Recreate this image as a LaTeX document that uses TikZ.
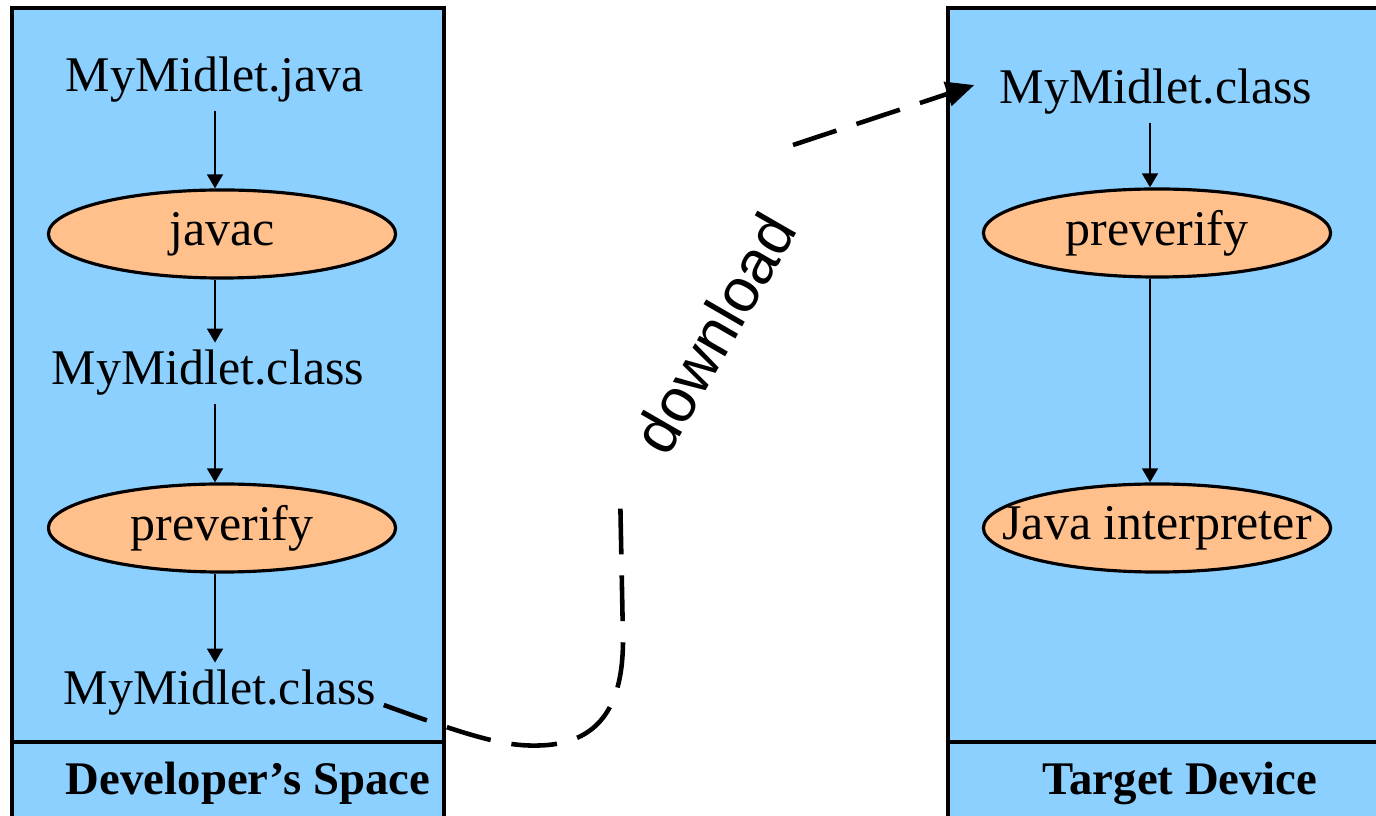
\documentclass[tikz,border=0pt]{standalone}
\usepackage{fontspec}
\setmainfont{Liberation Serif}
\newfontfamily\dlfont{Liberation Sans}
\usetikzlibrary{shapes.geometric,arrows.meta}
\definecolor{spaceblue}{RGB}{140,208,255}
\definecolor{toolorange}{RGB}{255,192,140}
\tikzset{
  space/.style={draw=black,line width=0.9pt,fill=spaceblue},
  file/.style={font=\fontsize{14.2}{17}\selectfont,inner sep=2pt,anchor=base},
  tool/.style={ellipse,draw=black,line width=0.9pt,fill=toolorange,minimum width=3.47cm,minimum height=0.88cm,inner sep=0pt,font=\fontsize{14.2}{17}\selectfont},
  flow/.style={line width=0.7pt,-{Triangle[length=4pt,width=4.5pt]}},
  dl/.style={line width=1.3pt,dash pattern=on 13pt off 6pt},
  title/.style={font=\fontsize{13.3}{16}\selectfont\bfseries,anchor=base}
}

\begin{document}
\begin{tikzpicture}[x=0.01cm,y=-0.01cm]
  \useasboundingbox (0,0) rectangle (1376,816);
  \clip (0,0) rectangle (1376,816);
  %%%%% DEVELOPER %%%%%
  \draw[space] (12,8) rectangle (444,840);
  \draw[line width=0.9pt] (12,742) -- (444,742);
  \node[title] (devlabel) at (248,794) {Developer's Space};

  \node[file] (ljava) at (215,92) {MyMidlet.java};
  \node[tool] (javac) at (222,234) {javac};
  \node[file] (lcls1) at (208,385) {MyMidlet.class};
  \node[tool] (lpre) at (222,528) {preverify};
  \node[file] (lcls2) at (220,705) {MyMidlet.class};

  \draw[flow] (ljava) -- (ljava |- javac.north);
  \draw[flow] (javac.south -| ljava) -- (lcls1.north -| ljava);
  \draw[flow] (lcls1.south -| ljava) -- (lpre.north -| ljava);
  \draw[flow] (lpre.south -| ljava) -- (lcls2.north -| ljava);

  %%%%% TARGET %%%%%
  \draw[space] (948,8) rectangle (1400,840);
  \draw[line width=0.9pt] (948,742) -- (1400,742);
  \node[title] (tgtlabel) at (1180,794) {Target Device};

  \node[file] (rcls) at (1156,104) {MyMidlet.class};
  \node[tool] (rpre) at (1157,233) {preverify};
  \node[tool,inner xsep=-0.36cm] (rjvm) at (1157,528) {Java interpreter};
  \coordinate (rcol) at (1150,0);

  \draw[flow] (rcls.south -| rcol) -- (rpre.north -| rcol);
  \draw[flow] (rpre.south -| rcol) -- (rjvm.north -| rcol);

  %%%%% DOWNLOAD %%%%%
  \node[font=\dlfont\fontsize{17.5}{20}\selectfont,rotate=60] (dlabel) at (714,333) {download};
  \coordinate (dlA) at (620,488);
  \coordinate (dlB) at (793,145);
  \draw[dl] (lcls2.base east) .. controls (480,740) and (510,748) .. (548,745)
    .. controls (600,740) and (623,705) .. (623,640) -- (dlA);
  \draw[dl,-{Triangle[length=8pt,width=7pt]}] (dlB) -- ([shift={(-18,-7)}]rcls.west);
\end{tikzpicture}
\end{document}
